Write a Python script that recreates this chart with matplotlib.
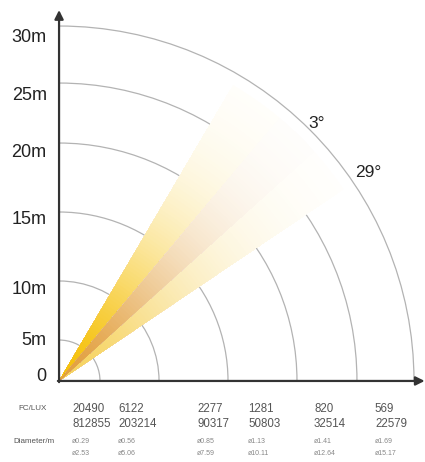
import numpy as np
import matplotlib
matplotlib.use('Agg')
from matplotlib import pyplot as plt
from matplotlib.patches import Arc, Wedge
from matplotlib.colors import to_rgb

plt.rcParams['font.family'] = ['Liberation Sans', 'DejaVu Sans']

# distance rings (labels and drawn radius, 30m ring = 30 units)
ring_labels = ['5m', '10m', '15m', '20m', '25m', '30m']
ring_radius = [3.46, 8.45, 14.28, 20.11, 25.18, 30.0]
ylabels = ['0', '5m', '10m', '15m', '20m', '25m', '30m']
ylabel_pos = [0.34, 3.46, 7.77, 13.61, 19.27, 24.17, 28.99]

# beam layers: angle from, angle to, colour at origin
beam_from = [34.0, 50.0, 42.0]
beam_to = [59.5, 59.5, 50.0]
beam_color = ['#f6d361', '#f5c10b', '#e2a040']
beam_len = 29.0

beam_angles = ['3°', '29°']

# table under the chart
fc = ['20490', '6122', '2277', '1281', '820', '569']
lux = ['812855', '203214', '90317', '50803', '32514', '22579']
diam_3 = ['ø0.29', 'ø0.56', 'ø0.85', 'ø1.13', 'ø1.41', 'ø1.69']
diam_29 = ['ø2.53', 'ø5.06', 'ø7.59', 'ø10.11', 'ø12.64', 'ø15.17']
col_x = [1.10, 4.99, 11.66, 15.97, 21.55, 26.70]

fig = plt.figure(figsize=(4.25, 4.62), dpi=100)
ax = fig.add_axes([0, 0, 1, 1])
ax.set_xlim(-4.99, 30.93)
ax.set_ylim(-6.85, 32.20)
ax.set_aspect('equal')
ax.axis('off')

# rings
for r in ring_radius:
    ax.add_patch(Arc((0, 0), 2 * r, 2 * r, theta1=0, theta2=90,
                     color='#b3b3b3', lw=0.9, zorder=1))

# beam with a fade to white
white = np.array([1.0, 1.0, 1.0])
radii = np.linspace(beam_len, 0.3, 100)
for a0, a1, c in zip(beam_from, beam_to, beam_color):
    base = np.array(to_rgb(c))
    for r in radii:
        t = 1 - np.exp(-(r / 14.4) ** 1.96)
        col = base * (1 - t) + white * t
        ax.add_patch(Wedge((0, 0), r, a0, a1, facecolor=col,
                           edgecolor='none', zorder=2))

# axes with arrows
ax.annotate('', xy=(0, 31.35), xytext=(0, -0.1),
            arrowprops=dict(arrowstyle='-|>', color='#333333', lw=1.6,
                            mutation_scale=13, shrinkA=0, shrinkB=0), zorder=5)
ax.annotate('', xy=(30.9, 0), xytext=(-0.1, 0),
            arrowprops=dict(arrowstyle='-|>', color='#333333', lw=1.6,
                            mutation_scale=13, shrinkA=0, shrinkB=0), zorder=5)

for lab, y in zip(ylabels, ylabel_pos):
    ax.text(-1.05, y, lab, ha='right', va='center', fontsize=13, color='#222222')

ax.text(21.04, 21.72, beam_angles[0], ha='left', va='center', fontsize=12.5, color='#222222')
ax.text(25.01, 17.58, beam_angles[1], ha='left', va='center', fontsize=12.5, color='#222222')

# table
ax.text(-3.46, -2.35, 'FC/LUX', ha='left', va='center', fontsize=5.8, color='#555555')
ax.text(-3.89, -5.11, 'Diameter/m', ha='left', va='center', fontsize=5.8, color='#555555')
for x, a, b, c, d in zip(col_x, fc, lux, diam_3, diam_29):
    ax.text(x, -2.41, a, ha='left', va='center', fontsize=8.3, color='#555555')
    ax.text(x, -3.63, b, ha='left', va='center', fontsize=8.3, color='#555555')
    ax.text(x, -5.11, c, ha='left', va='center', fontsize=5, color='#888888')
    ax.text(x, -6.17, d, ha='left', va='center', fontsize=5, color='#888888')

plt.savefig('out.png', dpi=100)
